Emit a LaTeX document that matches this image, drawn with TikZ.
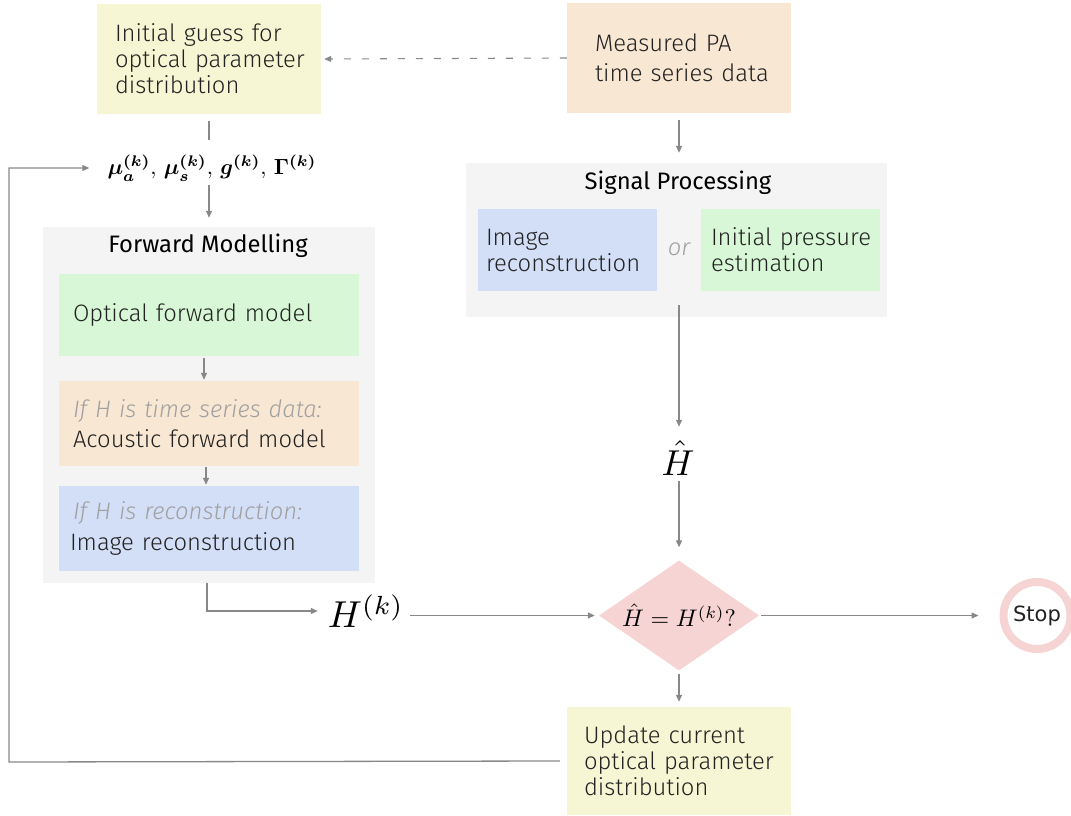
\documentclass[tikz,border=0pt]{standalone}
\usepackage[no-math]{fontspec}
\setmainfont{Fira Sans}[UprightFont=* Light, ItalicFont=* Light Italic, BoldFont=*]
\newfontfamily\titlefont{Fira Sans}
\newfontfamily\stopfont{DejaVu Sans}
\usepackage{amsmath}
\usepackage{graphicx}
\usetikzlibrary{shapes.geometric, arrows.meta}

% math set at 10pt and scaled up (Computer Modern math has fixed design sizes)
\newcommand{\scaledmath}[2]{{\fontsize{10}{12}\selectfont\scalebox{#1}{$#2$}}}
\hbadness=10000 \hfuzz=100pt

\definecolor{cyellow}{HTML}{F6F6D4}
\definecolor{cpeach}{HTML}{F8E7D3}
\definecolor{cgroup}{HTML}{F4F4F4}
\definecolor{cblue}{HTML}{D3DEF7}
\definecolor{cgreen}{HTML}{D8F7D6}
\definecolor{cpink}{HTML}{F6D4D4}
\definecolor{cline}{HTML}{888888}
\definecolor{chint}{HTML}{A0A0A0}
\definecolor{ctext}{HTML}{222222}

\tikzset{
  txt/.style={font=\fontsize{23.8}{26}\selectfont, text=ctext},
  box/.style={txt, rectangle, inner sep=0pt, align=left, anchor=center},
  group/.style={rectangle, fill=cgroup, inner sep=0pt},
  title/.style={font=\titlefont\fontsize{23.8}{26}\selectfont, text=black},
  conn/.style={draw=cline, line width=1.3pt, -{Triangle[length=7pt,width=6pt]}},
  plain/.style={draw=cline, line width=1.3pt},
  hint/.style={text=chint, font=\fontsize{23.8}{26}\selectfont\itshape},
  mathlbl/.style={inner sep=2pt},
}

\begin{document}
\begin{tikzpicture}[x=1pt, y=-1pt]
\useasboundingbox (0,0) rectangle (1071,816);

% ---- top row ----
\node[box, fill=cyellow, minimum width=224, minimum height=110, text width=188] (init) at (209,59)
  {\mbox{Initial guess for}\\\mbox{optical parameter}\\\mbox{distribution}};
\node[box, fill=cpeach, minimum width=224, minimum height=110, text width=168,
      font=\fontsize{23.8}{30}\selectfont] (meas) at (679,58)
  {\mbox{Measured PA}\\\mbox{time series data}};

% ---- current parameters ----
\node[mathlbl] (params) at (212,168)
  {\scaledmath{2.2}{\boldsymbol{\mu_a^{(k)}},\, \boldsymbol{\mu_s^{(k)}},\, \boldsymbol{g^{(k)}},\, \boldsymbol{\Gamma^{(k)}}}};

% ---- forward modelling group ----
\node[group, minimum width=332, minimum height=356] (fwd) at (209,405) {};
\node[title] (fwdt) at (208,246) {Forward Modelling};
\node[box, fill=cgreen, minimum width=300, minimum height=82, text width=272] (opt) at (209,315)
  {\mbox{Optical forward model}};
\node[box, fill=cpeach, minimum width=300, minimum height=85, text width=272,
      font=\fontsize{23.8}{30}\selectfont] (aco) at (209,423.5)
  {\mbox{\color{chint}\itshape If H is time series data:}\\\mbox{Acoustic forward model}};
\node[box, fill=cblue, minimum width=300, minimum height=85, text width=272,
      font=\fontsize{23.8}{31}\selectfont] (rec) at (209,528.5)
  {\mbox{\color{chint}\itshape If H is reconstruction:}\\\mbox{\hspace*{-3pt}Image reconstruction}};

% ---- signal processing group ----
\node[group, minimum width=421, minimum height=154] (sig) at (676.5,240) {};
\node[title] (sigt) at (678,183) {Signal Processing};
\node[box, fill=cblue, minimum width=179, minimum height=82, text width=163] (imgr) at (567.5,250)
  {\mbox{Image}\\\mbox{reconstruction}};
\node[box, fill=cgreen, minimum width=179, minimum height=82, text width=159] (pres) at (790.5,250)
  {\mbox{Initial pressure}\\\mbox{estimation}};
\node[hint] (orlbl) at (679,249) {or};

% ---- comparison ----
\node[mathlbl] (hhat) at (678,458) {\scaledmath{3.6}{\hat{H}}};
\node[mathlbl] (hk) at (366,611) {\scaledmath{3.75}{H^{(k)}}};
\node[diamond, aspect=1.45, fill=cpink, minimum width=160, minimum height=110, inner sep=0pt]
  (dia) at (679,615.5) {\scaledmath{2.4}{\hat{H} = H^{(k)}?}};
\node[circle, draw=cpink, line width=8pt, fill=white, minimum size=67, inner sep=0pt,
      font=\stopfont\fontsize{21}{24}\selectfont, text=ctext] (stop) at (1037,615.5) {Stop};
\node[box, fill=cyellow, minimum width=224, minimum height=108, text width=190] (upd) at (679,761)
  {\mbox{Update current}\\\mbox{optical parameter}\\\mbox{distribution}};

% ---- connectors ----
\draw[conn, line width=1.1pt, dash pattern=on 7pt off 11pt, shorten >=3pt] (meas.west) -- (init.east);
\draw[plain, shorten <=7pt] (init.south) -- ++(0,26);
\draw[conn, shorten <=2pt, shorten >=9pt] (init.south |- params.south) -- (init.south |- fwd.north);
\draw[conn, shorten <=2pt, shorten >=1pt] ([xshift=-5pt]opt.south) -- ([xshift=-5pt]aco.north);
\draw[conn, shorten <=1pt, shorten >=1pt] ([xshift=-3pt]aco.south) -- ([xshift=-3pt]rec.north);
\draw[conn, shorten <=7pt, shorten >=10pt] (meas.south) -- (meas.south |- sig.north);
\draw[conn, shorten >=12pt] ([yshift=12pt]meas.south |- sig.south) -- (meas.south |- hhat.north);
\draw[conn, shorten <=4pt, shorten >=13pt] (meas.south |- hhat.south) -- (dia.north);
\draw[conn, shorten >=8pt] ([xshift=-2pt]fwd.south) |- (hk.west);
\draw[conn, shorten <=4pt, shorten >=4pt] (hk.east |- dia.west) -- (dia.west);
\draw[conn, shorten <=2pt, shorten >=21pt] (dia.east) -- (stop.west);
\draw[conn, shorten <=3pt, shorten >=5pt] (dia.south) -- (upd.north);
\coordinate (loop) at (9,762);
\draw[conn, shorten >=16pt] ([xshift=-7pt]upd.west) -- (loop) |- (params.west);
\end{tikzpicture}
\end{document}
